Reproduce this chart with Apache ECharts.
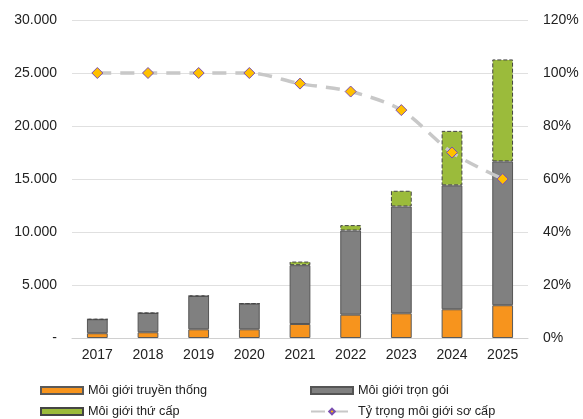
<!DOCTYPE html>
<html>
<head>
<meta charset="utf-8">
<script src="https://cdn.jsdelivr.net/npm/echarts@6/dist/echarts.min.js"></script>
<style>
html,body{margin:0;padding:0;background:#fff;}
#chart{width:583px;height:419px;}
</style>
</head>
<body>
<div id="chart"></div>
<script>
const years = ['2017','2018','2019','2020','2021','2022','2023','2024','2025'];
const truyenThong = [450, 540, 820, 820, 1320, 2200, 2330, 2710, 3090];
const tronGoi = [1320, 1820, 3150, 2420, 5550, 7940, 10080, 11690, 13570];
const thuCap = [0, 0, 0, 0, 340, 510, 1480, 5140, 9620];
const tyTrong = [100, 100, 100, 100, 96, 93, 86, 70, 60];

const names = ['Môi giới truyền thống', 'Môi giới trọn gói', 'Môi giới thứ cấp', 'Tỷ trọng môi giới sơ cấp'];
const font = 'Liberation Sans, Arial, sans-serif';

function fmtThousands(v) {
  if (v === 0) return '-';
  return String(v).replace(/\B(?=(\d{3})+(?!\d))/g, '.');
}

function legendAt(name, left, top, icon) {
  const l = {
    data: [name], left: left, top: top, orient: 'horizontal',
    itemWidth: 42, itemHeight: 7, itemGap: 0, padding: 0,
    textStyle: {fontFamily: font, fontSize: 12.7, color: '#222'}
  };
  if (icon) l.icon = icon;
  return l;
}

const chart = echarts.init(document.getElementById('chart'));
chart.setOption({
  animation: false,
  grid: {left: 72, right: 55, top: 20, bottom: 81},
  legend: [
    legendAt(names[0], 40, 384, 'rect'),
    legendAt(names[1], 310, 384, 'rect'),
    legendAt(names[2], 40, 405, 'rect'),
    legendAt(names[3], 310, 405)
  ],
  xAxis: {
    type: 'category', data: years,
    axisLine: {lineStyle: {color: '#d0d0d0'}},
    axisTick: {show: false},
    axisLabel: {fontFamily: font, fontSize: 14, color: '#222', margin: 10}
  },
  yAxis: [
    {
      type: 'value', min: 0, max: 30000, interval: 5000,
      axisLabel: {fontFamily: font, fontSize: 14, color: '#222', margin: 15, formatter: fmtThousands},
      splitLine: {lineStyle: {color: '#e0e0e0'}},
      axisLine: {show: false}, axisTick: {show: false}
    },
    {
      type: 'value', min: 0, max: 120, interval: 20,
      axisLabel: {fontFamily: font, fontSize: 14, color: '#222', margin: 15, formatter: '{value}%'},
      splitLine: {show: false}, axisLine: {show: false}, axisTick: {show: false}
    }
  ],
  series: [
    {
      name: names[0], type: 'bar', stack: 'tong', data: truyenThong, barWidth: '41%',
      itemStyle: {color: '#F7941D', borderColor: '#5a5a5a', borderWidth: 1}
    },
    {
      name: names[1], type: 'bar', stack: 'tong', data: tronGoi,
      itemStyle: {color: '#808080', borderColor: '#555', borderWidth: 1}
    },
    {
      name: names[2], type: 'bar', stack: 'tong', data: thuCap,
      itemStyle: {color: '#9BBB3B', borderColor: '#444', borderWidth: 1, borderType: [4, 2]}
    },
    {
      name: names[3], type: 'line', yAxisIndex: 1, data: tyTrong, smooth: 0.3,
      symbol: 'diamond', symbolSize: 11,
      lineStyle: {color: '#c8c8c8', width: 3.5, type: [14, 9]},
      itemStyle: {color: '#FFC000', borderColor: '#7A4FB0', borderWidth: 1}
    }
  ]
});
</script>
</body>
</html>
